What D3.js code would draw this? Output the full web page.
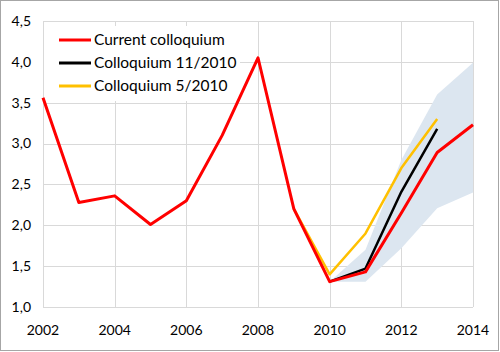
<!DOCTYPE html>
<html>
<head>
<meta charset="utf-8">
<script src="https://cdn.jsdelivr.net/npm/d3@7"></script>
<style>
  body { margin: 0; background: #fff; }
  text { font-family: Lato, "Open Sans", sans-serif; fill: #000; }
</style>
</head>
<body>
<script>
// data
var currentYears = [2002, 2003, 2004, 2005, 2006, 2007, 2008, 2009, 2010, 2011, 2012, 2013, 2014];
var currentVals  = [3.56, 2.28, 2.36, 2.01, 2.30, 3.10, 4.05, 2.20, 1.31, 1.43, 2.15, 2.89, 3.23];
var nov2010Years = [2010, 2011, 2012, 2013];
var nov2010Vals  = [1.31, 1.47, 2.41, 3.18];
var may2010Years = [2009, 2010, 2011, 2012, 2013];
var may2010Vals  = [2.20, 1.40, 1.90, 2.70, 3.30];
var bandYears = [2010, 2011, 2012, 2013, 2014];
var bandLow   = [1.31, 1.31, 1.72, 2.21, 2.40];
var bandHigh  = [1.31, 1.70, 2.80, 3.60, 3.99];
var xTicks = [2002, 2004, 2006, 2008, 2010, 2012, 2014];
var yTicks = [1.0, 1.5, 2.0, 2.5, 3.0, 3.5, 4.0, 4.5];
var seriesNames = ["Current colloquium", "Colloquium 11/2010", "Colloquium 5/2010"];
var seriesColors = ["#ff0000", "#000000", "#ffc000"];

var width = 500, height = 352;
var svg = d3.select("body").append("svg")
    .attr("width", width)
    .attr("height", height);

var x = d3.scaleLinear().domain([2002, 2014]).range([43, 473]);
var y = d3.scaleLinear().domain([1, 4.5]).range([307, 21]);

// outer frame
svg.append("rect")
    .attr("x", 0.5).attr("y", 0.5)
    .attr("width", 498).attr("height", 350)
    .attr("fill", "#fff")
    .attr("stroke", "#a6a6a6");

// grid
svg.selectAll(".hg").data(yTicks).enter().append("line")
    .attr("x1", x(2002)).attr("x2", x(2014))
    .attr("y1", function(d) { return Math.round(y(d)) + 0.5; })
    .attr("y2", function(d) { return Math.round(y(d)) + 0.5; })
    .attr("stroke", "#d9d9d9");
svg.selectAll(".vg").data(xTicks).enter().append("line")
    .attr("y1", y(1)).attr("y2", y(4.5))
    .attr("x1", function(d) { return Math.round(x(d)) + 0.5; })
    .attr("x2", function(d) { return Math.round(x(d)) + 0.5; })
    .attr("stroke", "#d9d9d9");

// tick labels
svg.selectAll(".yl").data(yTicks).enter().append("text")
    .attr("x", 31)
    .attr("y", function(d) { return y(d); })
    .attr("dy", "0.35em")
    .attr("text-anchor", "end")
    .style("font-size", "14px")
    .text(function(d) { return d3.format(".1f")(d).replace(".", ","); });
svg.selectAll(".xl").data(xTicks).enter().append("text")
    .attr("x", function(d) { return x(d); })
    .attr("y", 335)
    .attr("text-anchor", "middle")
    .style("font-size", "14px")
    .text(function(d) { return d; });

// legend background (under the lines)
svg.append("rect")
    .attr("x", 44).attr("y", 26)
    .attr("width", 196).attr("height", 75)
    .attr("fill", "#fff");

// uncertainty band
var band = bandYears.map(function(d, i) { return {yr: d, lo: bandLow[i], hi: bandHigh[i]}; });
svg.append("path")
    .datum(band)
    .attr("fill", "#dce6f0")
    .attr("d", d3.area()
        .x(function(d) { return x(d.yr); })
        .y0(function(d) { return y(d.lo); })
        .y1(function(d) { return y(d.hi); }));

function pairs(xs, vs) {
    return xs.map(function(d, i) { return [d, vs[i]]; });
}
var line = d3.line()
    .x(function(d) { return x(d[0]); })
    .y(function(d) { return y(d[1]); });

var drawOrder = [
    {pts: pairs(may2010Years, may2010Vals), col: seriesColors[2], w: 2.5},
    {pts: pairs(nov2010Years, nov2010Vals), col: seriesColors[1], w: 2.5},
    {pts: pairs(currentYears, currentVals), col: seriesColors[0], w: 3}
];
drawOrder.forEach(function(s) {
    svg.append("path")
        .datum(s.pts)
        .attr("fill", "none")
        .attr("stroke", s.col)
        .attr("stroke-width", s.w)
        .attr("stroke-linejoin", "round")
        .attr("d", line);
});

// legend entries
var leg = svg.selectAll(".leg").data(seriesNames).enter().append("g")
    .attr("transform", function(d, i) { return "translate(0," + (40 + i * 23) + ")"; });
leg.append("line")
    .attr("x1", 59).attr("x2", 91)
    .attr("stroke", function(d, i) { return seriesColors[i]; })
    .attr("stroke-width", 3);
leg.append("text")
    .attr("x", 94)
    .attr("dy", "0.35em")
    .style("font-size", "15.5px")
    .text(function(d) { return d; });
</script>
</body>
</html>
